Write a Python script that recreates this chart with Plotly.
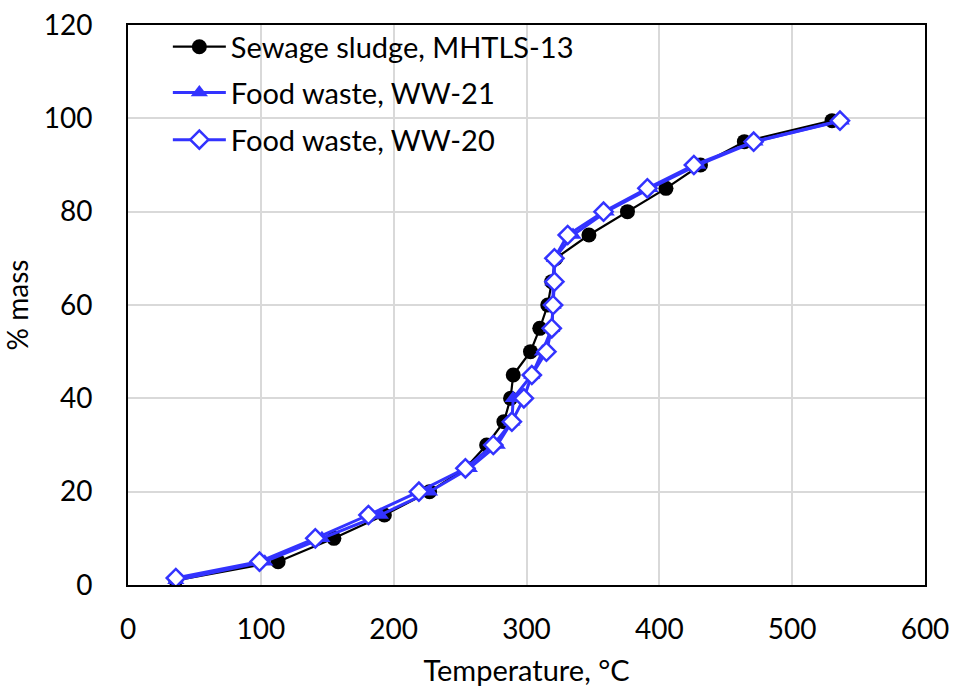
import plotly.graph_objects as go

mass = [1, 5, 10, 15, 20, 25, 30, 35, 40, 45, 50, 55, 60, 65, 70, 75, 80, 85, 90, 95, 99.5]

ss_temp = [36, 113, 155, 193, 227, 254, 270, 283, 288, 290, 303, 310, 316, 319, 322, 347, 376, 405, 431, 464, 530]
ww21_temp = [36, 103, 146, 190, 227, 257, 278, 289, 290, 304, 312, 319, 320, 320, 321, 335, 360, 393, 429, 472, 537]
ww20_temp = [36, 99, 141, 181, 219, 254, 275, 289, 298, 304, 315, 319, 320, 321, 321, 331, 358, 391, 426, 471, 536]
ww20_mass = [1.5, 5, 10, 15, 20, 25, 30, 35, 40, 45, 50, 55, 60, 65, 70, 75, 80, 85, 90, 95, 99.5]

names = ["Sewage sludge, MHTLS-13", "Food waste, WW-21", "Food waste, WW-20"]
x_ticks = [0, 100, 200, 300, 400, 500, 600]
y_ticks = [0, 20, 40, 60, 80, 100, 120]

BLUE = "#3333ff"
FONT = "Lato, 'Open Sans', sans-serif"

fig = go.Figure()
fig.add_trace(go.Scatter(
    x=ss_temp, y=mass, name=names[0], mode="lines+markers",
    line=dict(color="black", width=2.2),
    marker=dict(symbol="circle", size=15, color="black"),
    legend="legend", showlegend=True,
))
fig.add_trace(go.Scatter(
    x=ww21_temp, y=mass, name=names[1], mode="lines+markers",
    line=dict(color=BLUE, width=3),
    marker=dict(symbol="triangle-up", size=15, color=BLUE),
    legend="legend2", showlegend=True,
))
fig.add_trace(go.Scatter(
    x=ww20_temp, y=ww20_mass, name=names[2], mode="lines+markers",
    line=dict(color=BLUE, width=3),
    marker=dict(symbol="diamond", size=14, color="white", line=dict(color=BLUE, width=2.5)),
    legend="legend3", showlegend=True,
))

leg_common = dict(font=dict(family=FONT, size=29, color="black"), bgcolor="rgba(0,0,0,0)",
                  xanchor="left", yanchor="middle", x=0.05, itemwidth=53)

fig.update_layout(
    width=953, height=687,
    showlegend=True,
    margin=dict(l=128, r=28, t=25, b=102),
    paper_bgcolor="white", plot_bgcolor="white",
    font=dict(family=FONT, size=28, color="black"),
    legend=dict(**leg_common, y=0.961),
    legend2=dict(**leg_common, y=0.879),
    legend3=dict(**leg_common, y=0.795),
    xaxis=dict(
        range=[0, 600], tickvals=x_ticks, ticktext=[str(v) for v in x_ticks],
        showgrid=True, gridcolor="#d9d9d9", gridwidth=1.5,
        showline=True, linecolor="black", linewidth=2, mirror=True,
        ticks="", ticklabelstandoff=18, zeroline=False, automargin=False,
        title=dict(text="Temperature, °C", font=dict(size=29), standoff=18),
        tickfont=dict(size=28),
    ),
    yaxis=dict(
        range=[0, 120], tickvals=y_ticks, ticktext=[str(v) for v in y_ticks],
        showgrid=True, gridcolor="#d9d9d9", gridwidth=1.5,
        showline=True, linecolor="black", linewidth=2, mirror=True,
        ticks="", ticklabelstandoff=28, zeroline=False, automargin=False,
        title=dict(text="% mass", font=dict(size=28), standoff=16),
        tickfont=dict(size=28),
    ),
)

fig.write_html("out.html")
